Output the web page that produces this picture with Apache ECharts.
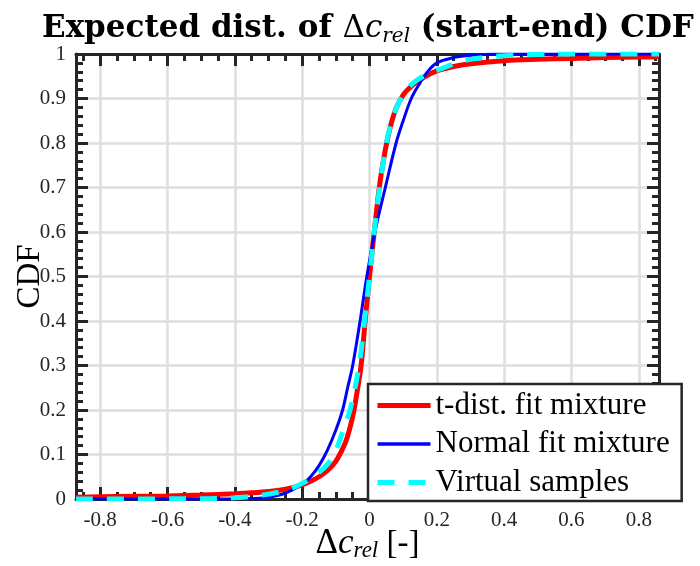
<!DOCTYPE html>
<html>
<head>
<meta charset="utf-8">
<script src="https://cdn.jsdelivr.net/npm/echarts@6/dist/echarts.min.js"></script>
<style>html,body{margin:0;padding:0;background:#fff}#c{width:700px;height:566px}</style>
</head>
<body>
<div id="c"></div>
<script>
// ---- data ----
const xTickValues = [-0.8, -0.6, -0.4, -0.2, 0, 0.2, 0.4, 0.6, 0.8];
const xMinorValues = [-0.85, -0.75, -0.7, -0.65, -0.55, -0.5, -0.45, -0.35, -0.3, -0.25, -0.15, -0.1, -0.05, 0.05, 0.1, 0.15, 0.25, 0.3, 0.35, 0.45, 0.5, 0.55, 0.65, 0.7, 0.75, 0.85];
const seriesNames = ['t-dist. fit mixture', 'Normal fit mixture', 'Virtual samples'];

const tDistX = [-0.872, -0.8, -0.7, -0.6, -0.5, -0.4, -0.35, -0.3, -0.25, -0.2, -0.175, -0.15, -0.125, -0.1, -0.085, -0.07, -0.057, -0.046, -0.035, -0.025, -0.013, 0, 0.014, 0.029, 0.04, 0.051, 0.066, 0.08, 0.1, 0.13, 0.16, 0.2, 0.25, 0.3, 0.4, 0.5, 0.6, 0.7, 0.8, 0.86];
const tDistY = [0.004, 0.005, 0.006, 0.007, 0.009, 0.012, 0.014, 0.017, 0.022, 0.032, 0.040, 0.050, 0.064, 0.085, 0.105, 0.130, 0.163, 0.200, 0.250, 0.300, 0.400, 0.500, 0.600, 0.700, 0.755, 0.800, 0.848, 0.880, 0.908, 0.931, 0.947, 0.962, 0.972, 0.978, 0.985, 0.988, 0.990, 0.992, 0.993, 0.994];

const normalX = [-0.872, -0.4, -0.35, -0.3, -0.25, -0.2, -0.175, -0.15, -0.125, -0.1, -0.08, -0.065, -0.05, -0.028, -0.008, 0.016, 0.047, 0.079, 0.1, 0.124, 0.15, 0.17, 0.2, 0.25, 0.3, 0.4, 0.86];
const normalY = [0, 0, 0.001, 0.004, 0.013, 0.033, 0.050, 0.075, 0.110, 0.155, 0.200, 0.250, 0.300, 0.400, 0.500, 0.600, 0.700, 0.800, 0.850, 0.900, 0.935, 0.958, 0.980, 0.992, 0.997, 1, 1];

const virtualX = [-0.872, -0.5, -0.45, -0.4, -0.35, -0.3, -0.25, -0.2, -0.15, -0.125, -0.105, -0.078, -0.058, -0.031, -0.015, 0, 0.014, 0.03, 0.05, 0.066, 0.085, 0.11, 0.13, 0.16, 0.2, 0.23, 0.269, 0.3, 0.35, 0.4, 0.5, 0.6, 0.86];
const virtualY = [0, 0.0005, 0.001, 0.003, 0.006, 0.011, 0.019, 0.035, 0.060, 0.078, 0.100, 0.155, 0.200, 0.300, 0.400, 0.500, 0.600, 0.700, 0.800, 0.848, 0.888, 0.918, 0.935, 0.950, 0.963, 0.972, 0.983, 0.988, 0.993, 0.996, 0.999, 1, 1];

const xMin = -0.872, xMax = 0.86;

function pairs(xs, ys) { return xs.map((x, i) => [x, ys[i]]); }

const axisColor = '#262626';
const serif = '"Liberation Serif", "Times New Roman", serif';

function xAxisDef(pos, major, withLabels) {
  return {
    type: 'value', position: pos, min: xMin, max: xMax,
    axisLine: { show: major, onZero: false, lineStyle: { color: axisColor, width: 3 } },
    axisTick: { show: true, inside: true, length: major ? 12 : 7, customValues: major ? xTickValues : xMinorValues,
      lineStyle: { color: axisColor, width: 3 } },
    axisLabel: { show: withLabels, customValues: xTickValues, margin: 11, color: axisColor,
      fontFamily: serif, fontSize: 21 },
    splitLine: { show: withLabels, lineStyle: { color: '#dedede', width: 2.5 } },
    name: withLabels ? '{m|Δ}{i|c}{s|rel}{n| [-]}' : '',
    nameLocation: 'middle', nameGap: 27, nameMoveOverlap: false,
    nameTextStyle: {
      rich: {
        m: { fontFamily: serif, fontSize: 35, color: '#000', lineHeight: 36 },
        i: { fontFamily: serif, fontSize: 35, fontStyle: 'italic', color: '#000', lineHeight: 36 },
        s: { fontFamily: serif, fontSize: 23, fontStyle: 'italic', color: '#000', lineHeight: 14, verticalAlign: 'bottom' },
        n: { fontFamily: serif, fontSize: 33, color: '#000', lineHeight: 36 }
      }
    }
  };
}
function yAxisDef(pos, withLabels) {
  return {
    type: 'value', position: pos, min: 0, max: 1, interval: 0.1,
    axisLine: { show: true, onZero: false, lineStyle: { color: axisColor, width: 3 } },
    axisTick: { show: true, inside: true, length: 12, lineStyle: { color: axisColor, width: 3 } },
    minorTick: { show: true, splitNumber: 5, length: 7, lineStyle: { color: axisColor, width: 3 } },
    axisLabel: { show: withLabels, margin: 10, color: axisColor, fontFamily: serif, fontSize: 21 },
    splitLine: { show: withLabels, lineStyle: { color: '#dedede', width: 2.5 } },
    name: withLabels ? 'CDF' : '', nameLocation: 'middle', nameGap: 29, nameMoveOverlap: false,
    nameTextStyle: { fontFamily: serif, fontSize: 33, color: '#000' }
  };
}

const lineSmooth = 0.35;
const chart = echarts.init(document.getElementById('c'), null, { renderer: 'canvas' });
chart.setOption({
  animation: false,
  backgroundColor: '#fff',
  title: {
    text: '{b|Expected dist. of }{m|Δ}{i|c}{s|rel}{b| (start-end) CDF}',
    left: 37, top: 6,
    textStyle: {
      rich: {
        b: { fontFamily: '"DejaVu Serif", serif', fontWeight: 'bold', fontSize: 31, color: '#000', lineHeight: 36 },
        m: { fontFamily: '"DejaVu Serif", serif', fontWeight: 'normal', fontSize: 31, color: '#000', lineHeight: 36 },
        i: { fontFamily: '"DejaVu Serif", serif', fontWeight: 'normal', fontSize: 31, fontStyle: 'italic', color: '#000', lineHeight: 36 },
        s: { fontFamily: '"DejaVu Serif", serif', fontWeight: 'normal', fontSize: 20, fontStyle: 'italic', color: '#000', lineHeight: 14, verticalAlign: 'bottom' }
      }
    }
  },
  grid: { left: 76, right: 41, top: 54, bottom: 67, containLabel: false, outerBoundsMode: 'none' },
  legend: {
    orient: 'vertical', left: 368, top: 384,
    backgroundColor: '#fff', borderColor: axisColor, borderWidth: 2.5,
    padding: [6, 12, 3, 7], itemWidth: 53, itemHeight: 30, itemGap: 7.5,
    textStyle: { fontFamily: serif, fontSize: 31, color: '#000', lineHeight: 30 },
    itemStyle: { opacity: 0, borderWidth: 0 },
    data: [
      { name: seriesNames[0], lineStyle: { width: 5, color: '#ff0000', type: 'solid' }, itemStyle: { opacity: 0 } },
      { name: seriesNames[1], lineStyle: { width: 3.5, color: '#0000ff', type: 'solid' }, itemStyle: { opacity: 0 } },
      { name: seriesNames[2], lineStyle: { width: 5, color: '#00ffff', type: [17, 14] }, itemStyle: { opacity: 0 } }
    ]
  },
  xAxis: [xAxisDef('bottom', true, true), xAxisDef('bottom', false, false), xAxisDef('top', true, false), xAxisDef('top', false, false)],
  yAxis: [yAxisDef('left', true), yAxisDef('right', false)],
  series: [
    { name: seriesNames[0], type: 'line', xAxisIndex: 0, yAxisIndex: 0, data: pairs(tDistX, tDistY), showSymbol: false, symbol: 'none',
      smooth: lineSmooth, lineStyle: { color: '#ff0000', width: 5 }, itemStyle: { color: '#ff0000' }, z: 3 },
    { name: seriesNames[1], type: 'line', xAxisIndex: 0, yAxisIndex: 0, data: pairs(normalX, normalY), showSymbol: false, symbol: 'none',
      smooth: lineSmooth, lineStyle: { color: '#0000ff', width: 3 }, itemStyle: { color: '#0000ff' }, z: 4 },
    { name: seriesNames[2], type: 'line', xAxisIndex: 0, yAxisIndex: 0, data: pairs(virtualX, virtualY), showSymbol: false, symbol: 'none',
      smooth: lineSmooth, lineStyle: { color: '#00ffff', width: 5, type: [17, 14] }, itemStyle: { color: '#00ffff' }, z: 5 }
  ]
});
</script>
</body>
</html>
